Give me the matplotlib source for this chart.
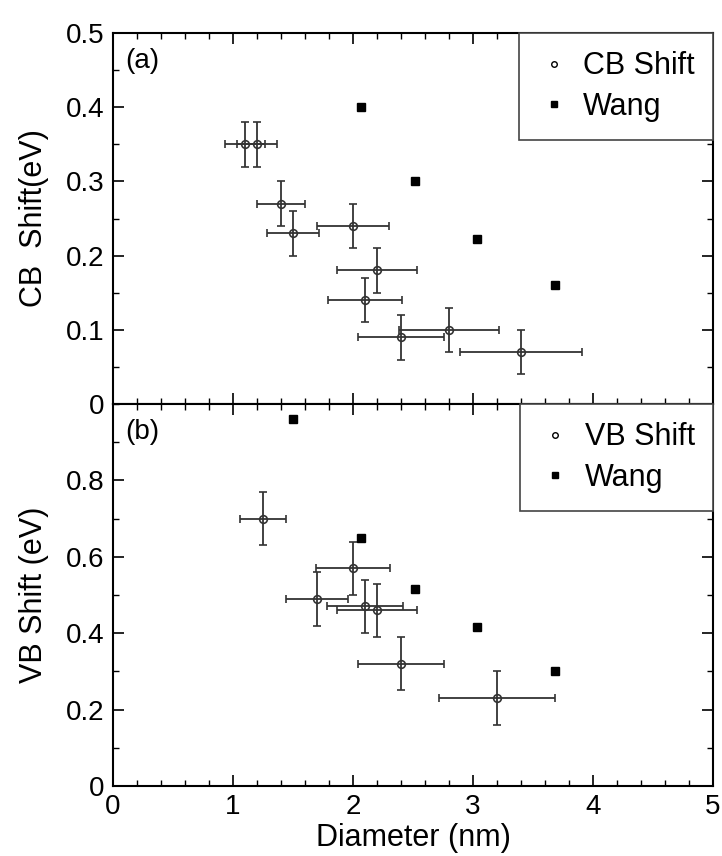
import matplotlib
matplotlib.use('Agg')
import matplotlib.pyplot as plt
from matplotlib.ticker import MultipleLocator
import numpy as np

plt.rcParams['font.family'] = ['Liberation Sans', 'DejaVu Sans']

# (a) conduction band shift
cb_d = [1.1, 1.2, 1.4, 1.5, 2.0, 2.2, 2.1, 2.4, 2.8, 3.4]
cb_shift = [0.35, 0.35, 0.27, 0.23, 0.24, 0.18, 0.14, 0.09, 0.10, 0.07]
cb_xerr = [0.17, 0.17, 0.2, 0.22, 0.3, 0.33, 0.31, 0.36, 0.42, 0.51]
cb_yerr = [0.03] * 10
wang_cb_d = [2.07, 2.52, 3.03, 3.68]
wang_cb = [0.40, 0.30, 0.223, 0.16]

# (b) valence band shift
vb_d = [1.25, 2.0, 1.7, 2.1, 2.2, 2.4, 3.2]
vb_shift = [0.70, 0.57, 0.49, 0.47, 0.46, 0.32, 0.23]
vb_xerr = [0.19, 0.31, 0.26, 0.32, 0.33, 0.36, 0.48]
vb_yerr = [0.07] * 7
wang_vb_d = [1.5, 2.07, 2.52, 3.03, 3.68]
wang_vb = [0.96, 0.65, 0.515, 0.415, 0.30]

fig = plt.figure(figsize=(7.22, 8.56), dpi=100)
ax1 = fig.add_axes([0.1565, 0.528, 0.831, 0.4334])
ax2 = fig.add_axes([0.1565, 0.0818, 0.831, 0.4462])

TICK_FS = 20
LAB_FS = 22


def panel(ax, d, s, xe, ye, wd, w, lab, tag):
    ax.errorbar(d, s, xerr=xe, yerr=ye, fmt='o', ms=5.5, mfc='none', mec='#333333',
                mew=1.2, ecolor='#333333', elinewidth=1.3, capsize=3, capthick=1.2)
    ax.plot(wd, w, 's', ms=5.5, color='black')
    ax.text(0.02, 0.96, tag, transform=ax.transAxes, fontsize=20, va='top')
    ax.set_xlim(0, 5)
    ax.xaxis.set_major_locator(MultipleLocator(1))
    ax.xaxis.set_minor_locator(MultipleLocator(0.2))
    ax.tick_params(which='both', direction='in', top=True, right=True, labelsize=TICK_FS)
    ax.tick_params(which='major', length=8, width=1.2, pad=6)
    ax.tick_params(which='minor', length=4, width=1)
    for sp in ax.spines.values():
        sp.set_linewidth(1.5)
    hh = [plt.Line2D([], [], ls='none', marker='o', ms=4, mfc='none', mec='black'),
          plt.Line2D([], [], ls='none', marker='s', ms=4, color='black')]
    leg = ax.legend(hh, [lab, 'Wang'], loc='upper right', fontsize=LAB_FS, frameon=True,
                    fancybox=False, edgecolor='#444444', framealpha=1, borderaxespad=0,
                    handletextpad=0.4, handlelength=1.1, borderpad=0.6, labelspacing=0.35)
    leg.get_frame().set_linewidth(1.2)


panel(ax1, cb_d, cb_shift, cb_xerr, cb_yerr, wang_cb_d, wang_cb, 'CB Shift', '(a)')
ax1.set_ylim(0, 0.5)
ax1.set_yticks([0, 0.1, 0.2, 0.3, 0.4, 0.5])
ax1.set_yticklabels(['0', '0.1', '0.2', '0.3', '0.4', '0.5'])
ax1.yaxis.set_minor_locator(MultipleLocator(0.05))
ax1.tick_params(labelbottom=False)
ax1.set_ylabel('CB  Shift(eV)', fontsize=LAB_FS, labelpad=12)

panel(ax2, vb_d, vb_shift, vb_xerr, vb_yerr, wang_vb_d, wang_vb, 'VB Shift', '(b)')
ax2.set_ylim(0, 1.0)
ax2.set_yticks([0, 0.2, 0.4, 0.6, 0.8])
ax2.set_yticklabels(['0', '0.2', '0.4', '0.6', '0.8'])
ax2.yaxis.set_minor_locator(MultipleLocator(0.1))
ax2.set_ylabel('VB Shift (eV)', fontsize=LAB_FS, labelpad=12)
ax2.set_xlabel('Diameter (nm)', fontsize=LAB_FS, labelpad=2)

fig.savefig('out.png', dpi=100)
